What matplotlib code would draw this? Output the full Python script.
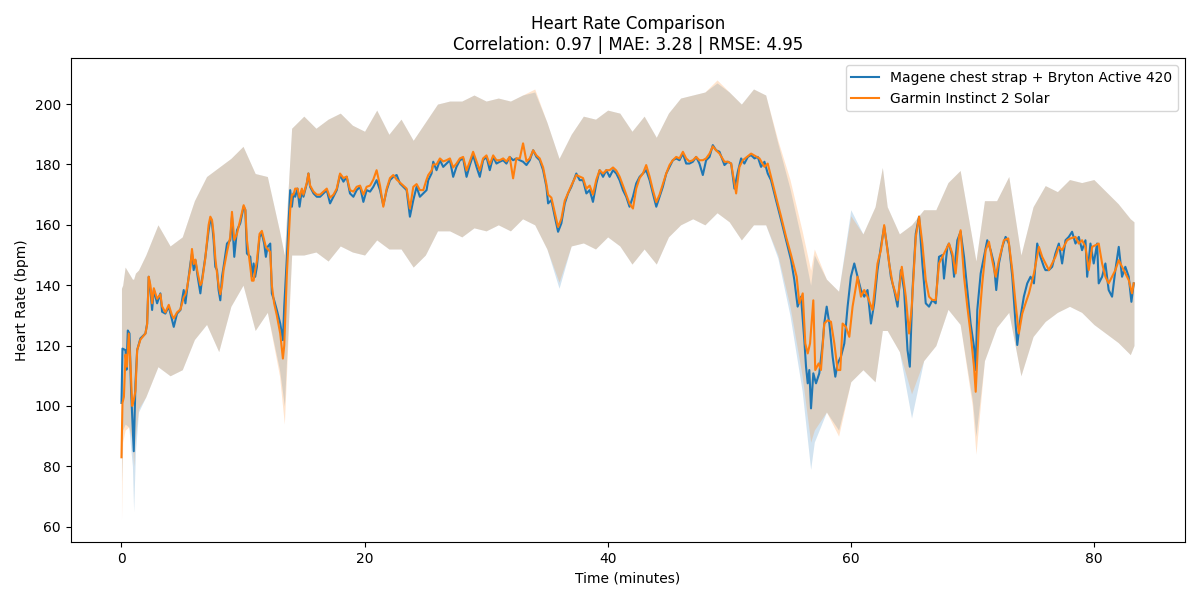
import numpy as np
import matplotlib
matplotlib.use("Agg")
import matplotlib.pyplot as plt

# Chest strap (blue) readings: minutes, bpm
blue_t = [0.0, 0.08, 0.33, 0.41, 0.52, 0.66, 0.79, 1.01, 1.15, 1.29, 1.56, 1.97, 2.11, 2.24, 2.38, 2.52,
          2.66, 2.93, 3.2, 3.34, 3.61, 3.89, 4.16, 4.3, 4.57, 4.85, 5.12, 5.26, 5.39, 5.67, 5.8, 5.94,
          6.08, 6.27, 6.49, 6.62, 6.9, 7.17, 7.31, 7.45, 7.58, 7.72, 7.86, 7.99, 8.13, 8.27, 8.4, 8.68,
          8.95, 9.09, 9.28, 9.5, 9.77, 10.05, 10.19, 10.32, 10.6, 10.73, 10.87, 11.0, 11.14, 11.36, 11.55,
          11.74, 11.88, 12.02, 12.24, 12.37, 12.56, 12.78, 13.06, 13.28, 13.39, 13.61, 13.88, 14.02, 14.15,
          14.29, 14.48, 14.65, 14.84, 14.97, 15.25, 15.38, 15.52, 15.8, 16.07, 16.34,
          16.61, 16.89, 17.16, 17.44, 17.71, 17.98, 18.26, 18.53, 18.8, 19.08, 19.35, 19.63, 19.9, 20.17,
          20.45, 20.72, 20.99, 21.27, 21.54, 21.82, 22.09, 22.36, 22.64, 22.91, 23.19, 23.46, 23.73, 24.01,
          24.28, 24.55, 24.83, 25.1, 25.24, 25.51, 25.65, 25.92, 26.2, 26.47, 26.74, 27.02, 27.29, 27.56,
          27.84, 28.11, 28.39, 28.66, 28.93, 29.21, 29.48, 29.75, 30.03, 30.3, 30.58, 30.85, 31.12, 31.4,
          31.67, 31.94, 32.22, 32.49, 32.77,
          33.04, 33.32, 33.59, 33.87, 34.14, 34.41, 34.69, 34.96, 35.1, 35.37, 35.65, 35.92, 36.19, 36.47,
          36.74, 37.01, 37.42, 37.7, 37.97, 38.25, 38.52, 38.79, 39.07, 39.34, 39.62, 39.89, 40.16, 40.44,
          40.71, 40.98, 41.26, 41.53, 41.8, 42.08, 42.35, 42.63, 42.9, 43.17, 43.45, 43.72, 44.0, 44.27,
          44.54, 44.82, 45.09, 45.36, 45.64, 45.91, 46.19, 46.46, 46.73, 47.01, 47.28, 47.55, 47.83, 48.1,
          48.38, 48.65, 48.92, 49.2,
          49.61, 49.89, 50.16, 50.43, 50.71, 50.98, 51.25, 51.53, 51.8, 52.08, 52.35, 52.62, 52.9, 53.17,
          53.44, 53.85, 54.27, 54.68, 55.09, 55.36, 55.63, 55.91, 56.18, 56.32, 56.46, 56.59, 56.73, 56.92,
          57.14, 57.41, 57.69, 57.82, 58.02, 58.24, 58.51, 58.73, 58.92, 59.19, 59.47, 59.74, 60.01, 60.29,
          60.56, 60.84, 61.11, 61.38, 61.66, 61.93, 62.2, 62.48, 62.75, 63.03, 63.3, 63.57, 63.85, 64.12,
          64.39, 64.67, 64.86, 65.08, 65.35, 65.62,
          65.89, 66.17, 66.44, 66.72, 66.99, 67.26, 67.54, 67.67, 67.95, 68.08, 68.36, 68.5, 68.63, 68.77,
          69.04, 69.32, 69.59, 69.86, 70.14, 70.28, 70.41, 70.69, 70.96, 71.23, 71.51, 71.78, 71.97, 72.19,
          72.47, 72.74, 73.01, 73.29, 73.56, 73.7, 73.97, 74.24, 74.52, 74.79, 75.07, 75.34, 75.61, 75.89,
          76.02, 76.3, 76.57, 76.84, 77.12, 77.39, 77.67, 77.94, 78.21, 78.49, 78.76, 79.03, 79.31, 79.45,
          79.72, 79.99, 80.27, 80.4, 80.68, 80.95, 81.22, 81.5, 81.77, 82.05, 82.32, 82.59, 82.87, 83.09, 83.28]
blue_hr = [101, 119, 118.5, 112, 125, 124, 105, 85, 107.5, 118.5, 122.4, 124, 127.3, 142.8, 138.4, 131.8,
           138.4, 134, 137.3, 131.2, 130.6, 132.9, 128.4, 126.2, 130.6, 131.8, 138.4, 134, 138.4, 147.2, 150.5, 145,
           148.3, 142.8, 137.3, 141.7, 149.4, 158.2, 161.6, 160.5, 155, 146.1, 145, 138.4, 135, 142.8, 146.1, 153.8,
           154.9, 162.7, 149.4, 158.2, 160.5, 166, 164.9, 150.5, 149.4, 142.8, 147.2, 142.8, 146.1, 156, 157.1,
           153.8, 149.4, 152.7, 153.8, 137.3, 135, 131.8, 127.3, 121.8, 132.9, 149.4, 171.5, 166, 170.4,
           169.3, 172, 166, 171.5, 169.3, 173.7, 177, 172.6, 170.4, 169.3, 169.3,
           170.4, 171.5, 167.1, 169.3, 171.5, 176.5, 174.3, 175.9, 170.4, 169.3, 171.5, 172.6, 167.6, 171.5,
           171, 172.6, 174.8, 171.5, 166.5, 171.5, 174.8, 175.9, 176.5, 173.7, 172.6, 171.5, 162.7, 168.2,
           172.6, 169.3, 170.4, 171.5, 174.8, 177, 180.9, 178.1, 181.4, 179.2, 180.3, 181.4, 175.9, 179.2,
           181.4, 182, 175.9, 179.8, 183.1, 179.2, 175.9, 181.4, 182.5, 178.1, 182.5, 180.3, 180.9, 181.4,
           180.3, 182.5, 181.4, 182, 181.4,
           180.9, 179.8, 181.4, 184.7, 182.5, 181.4, 178.1, 172.6, 167.1, 168.2, 162.7, 157.7, 160.5, 167.1,
           170.4, 172.6, 177, 174.8, 174.8, 170.4, 171.5, 167.6, 173.7, 178.1, 175.9, 178.1, 175.9, 178.1,
           177, 174.8, 171.5, 169.3, 166, 169.3, 173.7, 175.9, 177, 178.1, 174.8, 170.4, 166, 169.3,
           172.6, 177, 179.2, 181.4, 182, 181.4, 183.6, 180.3, 180.3, 180.9, 182.5, 180.3, 176.5, 181.4,
           182.5, 186.4, 184.7, 184.2,
           179.8, 180.9, 180.3, 172, 177.6, 182, 180.3, 182.5, 183.1, 182, 182.5, 179.2, 180.9, 177,
           174.8, 168.2, 161.6, 154.9, 148.3, 141.7, 132.9, 136.2, 121.8, 113, 107.5, 111.9, 99.2, 110.8,
           107.5, 110.8, 120.7, 127.3, 132.9, 127.3, 116.3, 109.7, 114.1, 116.3, 120.7, 132.9, 142.8, 147.2,
           142.8, 138.4, 136.2, 138.4, 127.3, 134, 145, 152.7, 159.4, 151.6, 142.8, 138.4, 132.9, 145,
           138.4, 118.5, 113, 138.4, 157.1, 162.7,
           147.2, 134, 132.9, 135.1, 134, 149.4, 150, 142.2, 152.7, 153.8, 149.4, 142.8, 149.4, 154.9,
           157.7, 149.4, 138.4, 127.3, 119.6, 111.9, 131.8, 143.9, 149.4, 154.9, 151.6, 147.2, 138.4, 147.2,
           152.7, 156, 153.8, 142.8, 127.3, 120.2, 129.5, 136.2, 140.6, 142.8, 140.6, 153.8, 149.4, 146.1,
           145, 145, 146.1, 150.5, 153.8, 147.2, 154.9, 156, 157.7, 153.8, 156, 151.6, 154.9, 142.8,
           153.8, 147.2, 153.8, 140.6, 142.8, 147.2, 138.4, 136.2, 145, 152.7, 142.8, 146.1, 142.8, 134.5, 140.6]

# Watch (orange) readings: minutes, bpm
orange_t = [0.0, 0.08, 0.2, 0.33, 0.45, 0.6, 0.75, 0.88, 1.01, 1.15, 1.29, 1.56, 1.97, 2.11, 2.24, 2.38,
            2.52, 2.66, 2.93, 3.2, 3.34, 3.61, 3.89, 4.16, 4.3, 4.57, 4.85, 5.12, 5.26, 5.39, 5.67, 5.8,
            5.94, 6.08, 6.27, 6.49, 6.62, 6.9, 7.17, 7.31, 7.45, 7.58, 7.72, 7.86, 7.99, 8.13, 8.27, 8.4,
            8.68, 8.95, 9.09, 9.28, 9.5, 9.77, 10.05, 10.19, 10.32, 10.6, 10.73, 10.87, 11.0, 11.14, 11.36,
            11.55, 11.74, 11.88, 12.02, 12.24, 12.37, 12.56, 12.78, 13.06, 13.28, 13.39, 13.61, 13.88, 14.02,
            14.15, 14.29, 14.48, 14.65, 14.84, 14.97, 15.25, 15.38, 15.52, 15.8, 16.07, 16.34,
            16.61, 16.89, 17.16, 17.44, 17.71, 17.98, 18.26, 18.53, 18.8, 19.08, 19.35, 19.63, 19.9, 20.17,
            20.45, 20.72, 20.99, 21.27, 21.54, 21.82, 22.09, 22.36, 22.64, 22.91, 23.19, 23.46, 23.73, 24.01,
            24.28, 24.55, 24.83, 25.1, 25.24, 25.51, 25.65, 25.92, 26.2, 26.47, 26.74, 27.02, 27.29, 27.56,
            27.84, 28.11, 28.39, 28.66, 28.93, 29.21, 29.48, 29.75, 30.03, 30.3, 30.58, 30.85, 31.12, 31.4,
            31.67, 31.94, 32.22, 32.49, 32.77,
            33.04, 33.32, 33.59, 33.87, 34.14, 34.41, 34.69, 34.96, 35.1, 35.37, 35.65, 35.92, 36.19, 36.47,
            36.74, 37.01, 37.42, 37.7, 37.97, 38.25, 38.52, 38.79, 39.07, 39.34, 39.62, 39.89, 40.16, 40.44,
            40.71, 40.98, 41.26, 41.53, 41.8, 42.08, 42.35, 42.63, 42.9, 43.17, 43.45, 43.72, 44.0, 44.27,
            44.54, 44.82, 45.09, 45.36, 45.64, 45.91, 46.19, 46.46, 46.73, 47.01, 47.28, 47.55, 47.83, 48.1,
            48.38, 48.65, 48.92, 49.2,
            49.61, 49.89, 50.16, 50.57, 50.84, 51.12, 51.8, 52.49, 52.9, 53.17, 53.44, 53.85, 54.27, 54.68,
            55.09, 55.55, 55.77, 56.05, 56.26, 56.46, 56.65, 56.92, 57.08, 57.36, 57.55, 57.82, 58.1, 58.37,
            58.65, 58.92, 59.14, 59.33, 59.6, 59.88, 60.15, 60.56, 60.84, 61.11, 61.38, 61.79, 62.2, 62.48,
            62.75, 63.16, 63.44, 63.85, 64.2, 64.53, 64.8, 65.02, 65.35, 65.62,
            65.89, 66.17, 66.44, 66.72, 66.99, 67.26, 67.54, 67.81, 68.08, 68.36, 68.63, 68.91, 69.04, 69.32,
            69.59, 69.86, 70.14, 70.28, 70.55, 70.82, 71.1, 71.37, 71.64, 71.92, 72.19, 72.6, 72.96, 73.29,
            73.56, 73.83, 74.11, 74.38, 74.66, 75.07, 75.48, 75.75, 76.02, 76.3, 76.57, 76.84, 77.12, 77.39,
            77.8, 78.08, 78.49, 78.76, 79.03, 79.31, 79.58, 79.86, 80.4, 80.68, 80.95, 81.22, 81.5, 81.77,
            82.05, 82.32, 82.59, 82.87, 83.14, 83.28]
orange_hr = [83, 101, 103, 117, 113, 124, 113, 100, 102, 105, 118.5, 122, 124, 127, 142.8, 140,
             134, 139, 135.5, 137, 133, 131, 133.5, 130, 129, 131, 132, 136, 137, 139, 146, 152,
             147, 148.5, 144, 140, 141, 149, 160, 162.7, 161.6, 157, 149, 144, 140, 137, 140, 145,
             151, 156, 164.3, 155, 157, 161.6, 166.5, 165, 155, 146, 141.5, 141.5, 145, 148, 157,
             158, 155, 152.7, 152, 151, 140, 134, 130, 124, 115.7, 120, 144, 165, 170,
             170, 172, 172, 169, 172, 170, 174, 177, 173, 171, 170, 170,
             171, 172, 169, 170, 172, 177, 175.5, 176, 171.5, 171, 172.6, 173, 170, 172.6,
             173, 175, 178.1, 173, 166, 172, 175.5, 176.5, 175, 174, 173, 172, 165.4, 172.6,
             173.5, 171.5, 171.5, 175, 176.5, 178, 180, 180, 182, 181, 181.4, 182, 179, 180.3,
             182, 182.5, 178, 181, 184.2, 181, 178, 182, 183, 180, 183, 181.4, 181.4, 182,
             181, 182.5, 175.4, 182, 182,
             187, 181, 182, 184.7, 183, 182, 179, 173.5, 170, 169, 164, 159.3, 162, 168,
             170.5, 173, 176.5, 176, 175.5, 172, 173, 170, 175, 178.1, 177, 178.1, 178.1, 179,
             178, 176, 173, 170, 167, 165.4, 172, 175.5, 177, 179.8, 176, 171.5, 167.5, 170,
             173.5, 177, 179.8, 181.4, 182.5, 182, 184.2, 182, 181, 181.4, 182.5, 181.4, 181.4, 182,
             183.6, 186, 184.7, 183.6,
             180.9, 180.9, 180.3, 170.4, 179.2, 181.4, 183.6, 182, 179.2, 180.3, 175.9, 169.3, 162.7, 156,
             150, 142.8, 134, 137.3, 120.7, 117.4, 120.7, 135, 111.9, 114.1, 111.9, 127.3, 128.4, 127.9,
             120.7, 111.9, 111.9, 127.3, 126.2, 122.9, 132.9, 142.8, 136.2, 138.4, 136.2, 131.8, 147.2, 151.6,
             159.9, 147.2, 140.6, 135, 146.1, 136.2, 124, 132.9, 156, 162.7,
             153.8, 141.7, 136.2, 135.1, 135.1, 147.2, 149.4, 151.6, 153.8, 150.5, 143.9, 156, 158.2, 142.8,
             132.9, 124, 113, 104.7, 127.3, 140.6, 151.6, 154.4, 148.3, 142.8, 148.3, 154.9, 155.5, 145,
             134, 124, 130.6, 134, 137.3, 143.9, 152.7, 149.4, 147.2, 145, 147.2, 149.4, 152.7, 151.6,
             154.9, 155.5, 156, 153.8, 154.9, 152.7, 145, 152.7, 153.8, 147.2, 142.8, 140.6, 142.8, 145,
             148.3, 146.1, 143.9, 141.7, 137.3, 140.6]

# Shaded variability bands
band_t = [0, 0.1, 0.3, 0.6, 0.9, 1.0, 1.15, 1.4, 2, 3, 4, 5, 6, 7, 8, 9, 10, 11, 12, 13, 13.4, 14, 15, 16,
          17, 18, 19, 20, 21, 22, 23, 24, 25, 26, 27, 28, 29, 30, 31, 32, 33, 34, 35, 36, 37, 38, 39, 40,
          41, 42, 43, 44, 45, 46, 47, 48, 49, 50, 51, 52, 53, 54, 55, 56, 56.7, 57, 58, 59, 60, 61, 62,
          62.6, 63, 64, 65, 66, 67, 68, 69, 70, 70.3, 71, 72, 73, 74, 75, 76, 77, 78, 79, 80, 81, 82, 83, 83.3]
blue_hi = [139, 140, 146, 144, 142, 142, 144, 145, 150, 160, 153, 156, 168, 176, 179, 182, 186, 177, 176, 158,
           150, 192, 196, 192, 195, 197, 193, 191, 198, 190, 195, 188, 194, 200, 201, 201, 203, 201, 202, 201,
           203, 204, 194, 182, 190, 196, 195, 198, 197, 191, 196, 189, 197, 202, 203, 204, 207, 204, 200, 205,
           203, 187, 172, 154, 140, 150, 142, 138, 165, 157, 166, 179, 166, 157, 160, 165, 165, 174, 178, 155,
           148, 168, 168, 176, 150, 166, 173, 171, 175, 174, 175, 171, 167, 162, 161]
blue_lo = [75, 92, 94, 93, 80, 65, 85, 98, 103, 113, 110, 112, 122, 127, 118, 133, 140, 125, 131, 112,
           100, 150, 150, 151, 148, 153, 151, 150, 155, 152, 152, 146, 150, 158, 158, 156, 159, 158, 160, 158,
           162, 160, 152, 139, 153, 154, 152, 156, 153, 147, 152, 147, 156, 160, 162, 160, 164, 161, 155, 160,
           160, 149, 130, 105, 79, 88, 98, 92, 108, 112, 108, 125, 125, 118, 96, 115, 120, 132, 127, 102,
           90, 115, 126, 131, 110, 123, 128, 131, 133, 131, 127, 124, 121, 117, 120]
orange_hi = [139, 140, 146, 144, 142, 142, 144, 145, 150, 160, 153, 156, 168, 176, 179, 182, 186, 177, 176, 158,
             150, 192, 196, 192, 195, 197, 193, 191, 198, 190, 195, 188, 194, 200, 201, 201, 203, 201, 202, 201,
             203, 205, 194, 182, 190, 196, 195, 198, 197, 191, 196, 189, 197, 202, 203, 204, 208, 204, 200, 205,
             203, 188, 175, 158, 145, 152, 142, 138, 163, 157, 166, 179, 166, 157, 160, 165, 165, 174, 178, 155,
             148, 168, 168, 176, 150, 166, 173, 171, 175, 174, 175, 171, 167, 162, 161]
orange_lo = [62, 88, 92, 93, 88, 80, 90, 99, 103, 113, 110, 112, 122, 127, 118, 133, 140, 125, 131, 110,
             94, 150, 150, 151, 148, 153, 151, 150, 155, 152, 152, 146, 150, 158, 158, 156, 159, 158, 160, 158,
             162, 160, 152, 141, 153, 154, 152, 156, 153, 147, 152, 147, 156, 160, 162, 160, 164, 161, 155, 160,
             160, 150, 133, 110, 88, 92, 98, 90, 108, 112, 108, 125, 125, 118, 104, 115, 120, 132, 127, 100,
             84, 115, 126, 131, 110, 123, 128, 131, 133, 131, 127, 124, 121, 117, 120]

blue_label = "Magene chest strap + Bryton Active 420"
orange_label = "Garmin Instinct 2 Solar"

fig, ax = plt.subplots(figsize=(12, 6), dpi=100)

ax.fill_between(band_t, blue_lo, blue_hi, color="C0", alpha=0.2, linewidth=0, zorder=1)
ax.fill_between(band_t, orange_lo, orange_hi, color="C1", alpha=0.2, linewidth=0, zorder=1)
ax.plot(blue_t, blue_hr, color="C0", label=blue_label, zorder=3)
ax.plot(orange_t, orange_hr, color="C1", label=orange_label, zorder=3)

ax.set_xlim(-4.17, 87.5)
ax.set_ylim(55, 215.2)
ax.set_xlabel("Time (minutes)")
ax.set_ylabel("Heart Rate (bpm)")
ax.set_title("Heart Rate Comparison\nCorrelation: 0.97 | MAE: 3.28 | RMSE: 4.95")
ax.legend(loc="upper right")

plt.subplots_adjust(left=0.059, right=0.9875, top=0.903, bottom=0.097)
plt.savefig("out.png")
